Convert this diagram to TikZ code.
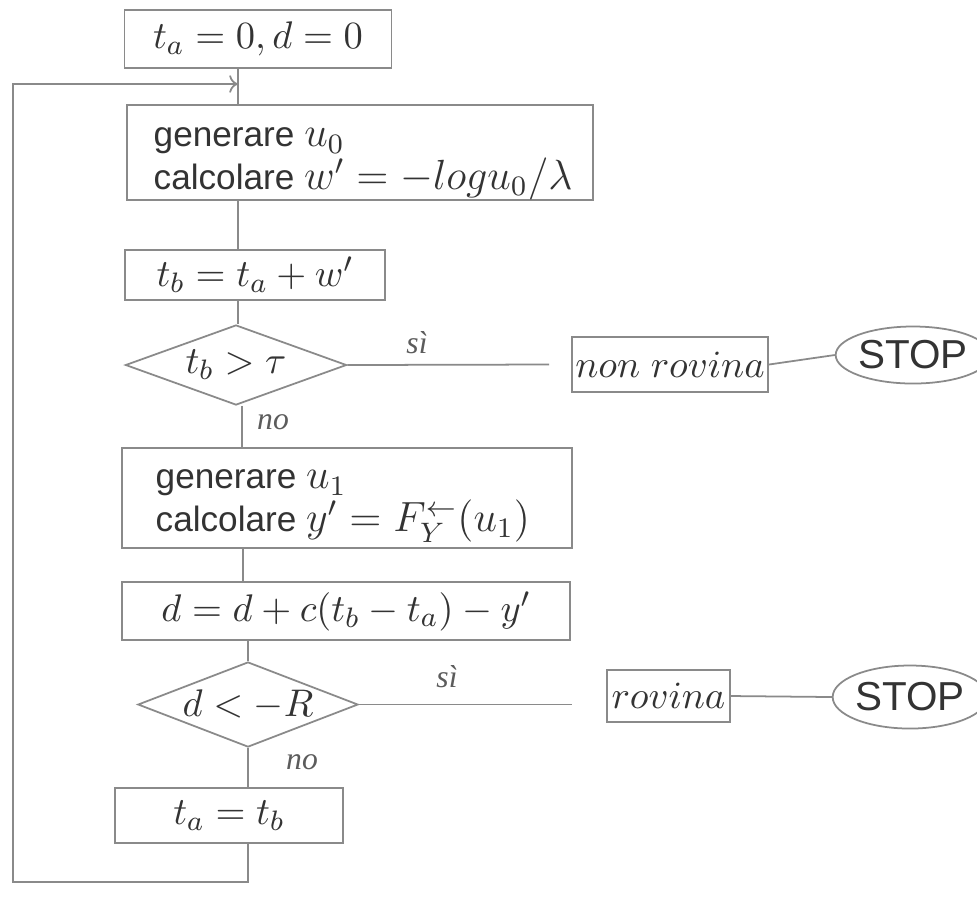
\documentclass[tikz,border=0pt]{standalone}
\usepackage{fontspec}
\setmainfont{Liberation Sans}
\newfontfamily\handfont{Liberation Serif}
\usetikzlibrary{shapes.geometric,arrows.meta}
\definecolor{linegray}{HTML}{8A8A8A}
\definecolor{ink}{HTML}{333333}
\newcommand\mathsz{\fontsize{11.8}{12}\selectfont}
\begin{document}
\begin{tikzpicture}[x=0.01cm,y=-0.01cm,
  box/.style={draw=linegray, line width=0.5pt, rectangle, inner sep=0pt, text=ink, font=\fontsize{11}{13}\selectfont},
  txt/.style={anchor=west, align=left, inner sep=0pt, text=ink, font=\fontsize{10}{12.2}\selectfont},
  dia/.style={draw=linegray, line width=0.5pt, diamond, aspect=2.7, inner sep=0pt, text=ink, font=\fontsize{11}{13}\selectfont},
  oval/.style={draw=linegray, line width=0.5pt, ellipse, inner sep=0pt, text=ink, font=\fontsize{11.5}{14}\selectfont},
  lbl/.style={text=ink!80, font=\handfont\itshape\fontsize{9}{10}\selectfont},
  conn/.style={draw=linegray, line width=0.5pt}]
\useasboundingbox (0,0) rectangle (977,896);
\clip (0,0) rectangle (977,896);
\fill[white] (0,0) rectangle (977,896);

% x positions of the main spine
\coordinate (xa) at (238,0);
\coordinate (xb) at (242,0);
\coordinate (xc) at (243,0);
\coordinate (xd) at (248,0);
\coordinate (lb) at (13,882);
\coordinate (lt) at (13,84);

\node[box, minimum width=2.67cm, minimum height=0.58cm] (b1) at (258,39) {$t_a = 0, d = 0$};
\node[box, minimum width=4.66cm, minimum height=0.95cm] (b2) at (360,152.5) {};
\node[txt] (b2t) at (153,164)
  {generare {\mathsz$u_0$}\\calcolare {\mathsz$w' = -log u_0/\lambda$}};
\node[box, minimum width=2.60cm, minimum height=0.50cm] (b3) at (255,275) {$t_b = t_a + w'$};
\node[dia, minimum width=2.21cm, minimum height=0.80cm] (d1) at (236,365) {$t_b > \tau$};
\node[box, minimum width=1.96cm, minimum height=0.55cm] (nr) at (670,364.5) {$non\;rovina$};
\node[oval, minimum width=1.40cm, minimum height=0.57cm] (s1) at (913,355) {STOP};
\node[box, minimum width=4.50cm, minimum height=1.00cm] (b4) at (347,498) {};
\node[txt] (b4t) at (155,506)
  {generare {\mathsz$u_1$}\\calcolare {\mathsz$y' = F_Y^{\leftarrow}(u_1)$}};
\node[box, minimum width=4.48cm, minimum height=0.58cm] (b5) at (346,611) {$d = d + c(t_b - t_a) - y'$};
\node[dia, minimum width=2.20cm, minimum height=0.85cm] (d2) at (248,704.5) {$d < -R$};
\node[box, minimum width=1.23cm, minimum height=0.52cm] (rv) at (668.5,696) {$rovina$};
\node[oval, minimum width=1.40cm, minimum height=0.63cm] (s2) at (910,697) {STOP};
\node[box, minimum width=2.28cm, minimum height=0.55cm] (b6) at (229,815.5) {$t_a = t_b$};

\node[lbl] (si1) at (417,343) {sì};
\node[lbl] (no1) at (273,422) {no};
\node[lbl] (si2) at (447,677) {sì};
\node[lbl] (no2) at (302,762) {no};

% spine
\draw[conn] (b1.south -| xa) -- (b2.north -| xa);
\draw[conn] (b2.south -| xa) -- (b3.north -| xa);
\draw[conn] (b3.south -| xa) -- (d1.north -| xa);
\draw[conn] (d1.south -| xb) -- (b4.north -| xb);
\draw[conn] (b4.south -| xc) -- (b5.north -| xc);
\draw[conn] (b5.south -| xd) -- (d2.north);
\draw[conn] (d2.south) -- (b6.north -| xd);
% loop back
\draw[conn, -{To[length=2.5pt,width=5pt]}] (b6.south -| xd) -- (lb -| xd) -- (lb) -- (lt) -- (lt -| xa);
% yes branches
\draw[conn] (d1.east) -- ([xshift=-0.22cm]nr.west);
\draw[conn] (nr.east) -- (s1.west);
\draw[conn] (d2.east) -- ([xshift=-0.34cm]rv.west |- d2.east);
\draw[conn] (rv.east) -- (s2.west);
\end{tikzpicture}
\end{document}
